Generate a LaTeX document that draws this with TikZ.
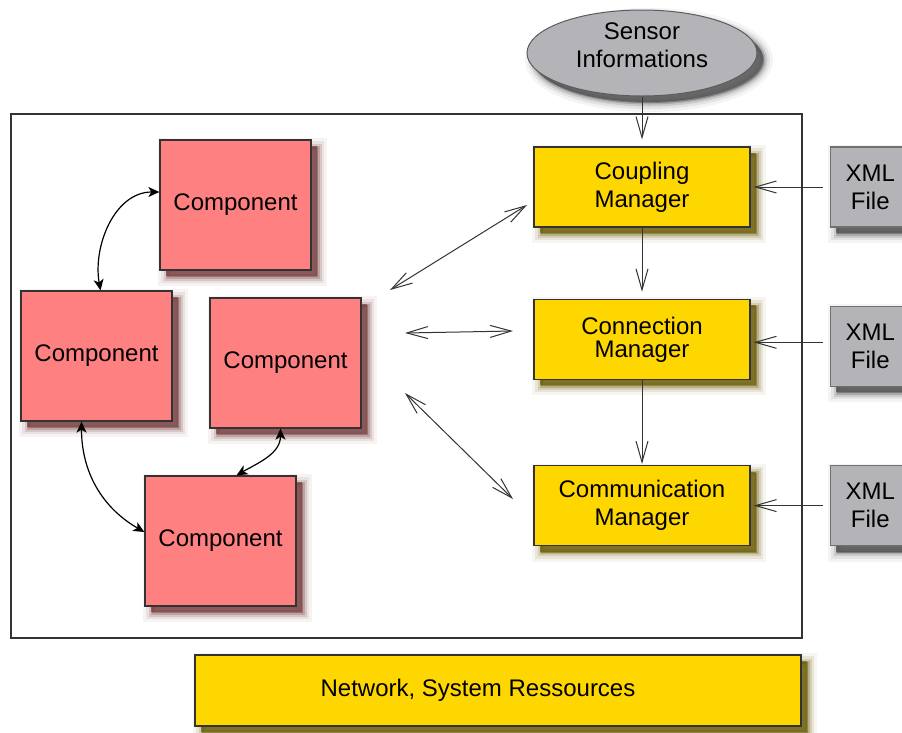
\documentclass[tikz,border=0pt]{standalone}
\usepackage{fontspec}
\setmainfont{Liberation Sans}
\usepackage{tikz}
\usetikzlibrary{positioning, arrows.meta, shapes.geometric, shadows}
\usepackage{xcolor}
\definecolor{ccomp}{HTML}{FF8080}
\definecolor{cmgr}{HTML}{FFD700}
\definecolor{cgray}{HTML}{B4B4B8}
\definecolor{cline}{HTML}{333333}

\begin{document}
\begin{tikzpicture}[
	x=1pt, y=1pt,
	font=\fontsize{24}{28}\selectfont,
	% Estilo para la sombra difusa
	softshadow/.style={
		general shadow={fill=#1, draw=#1, line width=18pt, opacity=.06,
			shadow xshift=7pt, shadow yshift=-7pt},
		general shadow={fill=#1, draw=#1, line width=12pt, opacity=.1,
			shadow xshift=7pt, shadow yshift=-7pt},
		general shadow={fill=#1, draw=#1, line width=7pt, opacity=.16,
			shadow xshift=7pt, shadow yshift=-7pt},
		general shadow={fill=#1, draw=#1, line width=3pt, opacity=.25,
			shadow xshift=7pt, shadow yshift=-7pt},
		general shadow={fill=#1, opacity=.65,
			shadow xshift=6pt, shadow yshift=-6pt}
	},
	% Estilo para los componentes
	compbox/.style={
		draw=cline,
		rectangle,
		line width=1.3pt,
		fill=ccomp,
		minimum width=151pt,
		minimum height=130pt,
		softshadow=ccomp!45!black
	},
	% Estilo para los managers
	mgrbox/.style={
		draw=cline,
		rectangle,
		line width=1.3pt,
		fill=cmgr,
		minimum width=216pt,
		minimum height=80pt,
		align=center,
		softshadow=cmgr!40!black
	},
	% Estilo para los ficheros XML
	xmlbox/.style={
		draw=cline!70,
		rectangle,
		line width=1.3pt,
		fill=cgray,
		minimum width=80pt,
		minimum height=80pt,
		align=center,
		softshadow=cgray!40!black
	},
	% Estilo para las flechas
	flow/.style={
		-{Straight Barb[length=21pt, width=12pt]},
		line width=1pt,
		draw=cline
	},
	dflow/.style={
		{Straight Barb[length=21pt, width=12pt]}-{Straight Barb[length=21pt, width=12pt]},
		line width=1pt,
		draw=cline
	},
	link/.style={
		{Stealth[length=11pt, width=10pt, inset=3pt]}-{Stealth[length=11pt, width=10pt, inset=3pt]},
		line width=1.2pt
	}
	]
	
	\clip (0,0) rectangle (902,-732);
	
	% --- Marco del sistema ---
	\node[draw=cline, line width=1.3pt, rectangle, minimum width=791pt, minimum height=524pt] (system) at (406.5,-376) {};
	
	% --- Componentes ---
	\node[compbox] (comp1) at (235.5,-205) {Component};
	\node[compbox] (comp2) at (96.5,-356) {Component};
	\node[compbox] (comp3) at (285.5,-363) {Component};
	\node[compbox] (comp4) at (220.5,-541) {Component};
	
	% Enlaces curvos entre componentes
	\draw[link] ([yshift=13pt]comp1.west) to[out=180, in=100] ([xshift=4pt]comp2.north);
	\draw[link] ([xshift=-15pt]comp2.south) to[out=-90, in=150] ([yshift=9pt]comp4.west);
	\draw[link] ([xshift=-5pt]comp3.south) to[out=-90, in=30] ([xshift=16pt]comp4.north);
	
	% --- Managers ---
	\node[ellipse, draw=cline!80, line width=1pt, fill=cgray, minimum width=230pt, minimum height=86pt,
		softshadow=cgray!40!black,
		label={[align=center, yshift=8pt]center:Sensor\\Informations}] (sensor) at (642,-53) {};
	\node[mgrbox] (coupling) at (642,-187) {Coupling\\Manager};
	\node[mgrbox, below=71pt of coupling] (connection) {Connection\\[-5pt]Manager};
	\node[mgrbox, below=85pt of connection] (communication) {Communication\\Manager};
	
	% Ficheros XML
	\node[xmlbox, right=79pt of coupling] (xml1) {XML\\File};
	\node[xmlbox, right=79pt of connection, yshift=-7pt] (xml2) {XML\\File};
	\node[xmlbox, right=79pt of communication] (xml3) {XML\\File};
	
	% Recursos
	\node[mgrbox, minimum width=606pt, minimum height=71pt] (network) at (498,-690.5) {Network, System Ressources\hspace*{40pt}};
	
	% Flechas verticales
	\draw[flow, shorten >=7pt] (sensor.south) -- (coupling.north);
	\draw[flow, shorten >=7pt] (coupling.south) -- (connection.north);
	\draw[flow, shorten >=1pt] (connection.south) -- (communication.north);
	
	% Flechas desde los ficheros XML
	\draw[flow, shorten <=7pt, shorten >=3pt] (xml1.west) -- (coupling.east);
	\draw[flow, shorten <=7pt, shorten >=3pt] ([yshift=4pt]xml2.west) -- ([yshift=4pt]xml2.west -| connection.east);
	\draw[flow, shorten <=7pt, shorten >=3pt] (xml3.west) -- (communication.east);
	
	% Flechas dobles entre componentes y managers
	\coordinate (cA) at (390,-290);
	\coordinate (mA) at (527,-205);
	\coordinate (cB) at (405,-333);
	\coordinate (mB) at (513,-331);
	\coordinate (cC) at (405,-393);
	\coordinate (mC) at (513,-499);
	\draw[dflow] (cA) -- (mA);
	\draw[dflow] (cB) -- (mB);
	\draw[dflow] (cC) -- (mC);
	
\end{tikzpicture}
\end{document}
